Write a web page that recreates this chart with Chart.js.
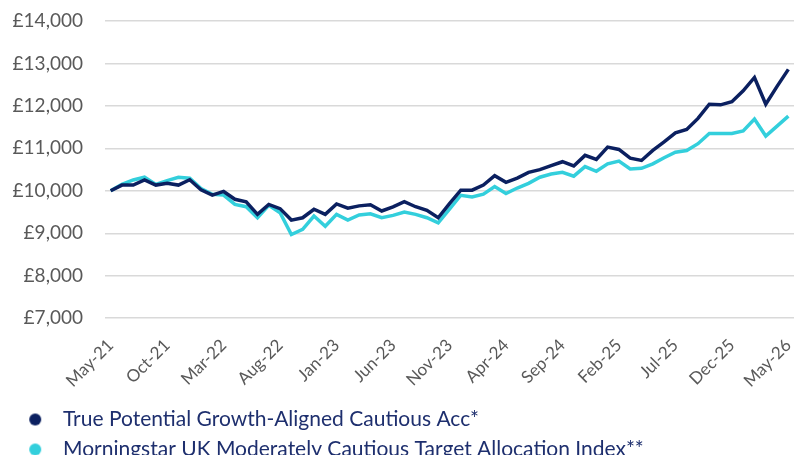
<!DOCTYPE html>
<html>
<head>
<meta charset="utf-8">
<script src="https://cdn.jsdelivr.net/npm/chart.js@4"></script>
<style>
  body { margin: 0; background: #fff; }
  #wrap { width: 794px; height: 455px; position: relative; }
</style>
</head>
<body>
<div id="wrap"><canvas id="growthChart"></canvas></div>
<script>
const months = [
  'May-21','Jun-21','Jul-21','Aug-21','Sep-21','Oct-21','Nov-21','Dec-21','Jan-22','Feb-22',
  'Mar-22','Apr-22','May-22','Jun-22','Jul-22','Aug-22','Sep-22','Oct-22','Nov-22','Dec-22',
  'Jan-23','Feb-23','Mar-23','Apr-23','May-23','Jun-23','Jul-23','Aug-23','Sep-23','Oct-23',
  'Nov-23','Dec-23','Jan-24','Feb-24','Mar-24','Apr-24','May-24','Jun-24','Jul-24','Aug-24',
  'Sep-24','Oct-24','Nov-24','Dec-24','Jan-25','Feb-25','Mar-25','Apr-25','May-25','Jun-25',
  'Jul-25','Aug-25','Sep-25','Oct-25','Nov-25','Dec-25','Jan-26','Feb-26','Mar-26','Apr-26',
  'May-26'
];

const fundValues = [
  10000, 10135, 10135, 10255, 10135, 10180, 10135, 10260, 10025, 9900,
  9985, 9800, 9740, 9445, 9680, 9580, 9310, 9365, 9565, 9445,
  9690, 9590, 9645, 9670, 9525, 9620, 9745, 9625, 9540, 9365,
  9700, 10015, 10015, 10135, 10355, 10200, 10300, 10435, 10500, 10595,
  10685, 10585, 10835, 10740, 11030, 10975, 10770, 10715, 10950, 11150,
  11365, 11445, 11705, 12040, 12025, 12100, 12355, 12670, 12040, 12460,
  12860
];

const indexValues = [
  10000, 10150, 10255, 10320, 10150, 10240, 10320, 10295, 10055, 9920,
  9900, 9680, 9625, 9365, 9660, 9485, 8970, 9090, 9405, 9165,
  9445, 9310, 9430, 9460, 9365, 9420, 9500, 9445, 9365, 9245,
  9570, 9895, 9855, 9920, 10100, 9935, 10065, 10175, 10320, 10395,
  10435, 10345, 10570, 10460, 10635, 10700, 10515, 10530, 10635, 10780,
  10910, 10950, 11110, 11350, 11350, 11350, 11410, 11690, 11290, 11525,
  11760
];

const yTicks = [7000, 8000, 9000, 10000, 11000, 12000, 13000, 14000];
const labelEvery = 5;

const fundName = 'True Potential Growth-Aligned Cautious Acc*';
const indexName = 'Morningstar UK Moderately Cautious Target Allocation Index**';

const navy = '#0b2060';
const cyan = '#33cfdc';

// small dot image for legend so the gap to the text can be set
function dot(color) {
  const c = document.createElement('canvas');
  c.width = 20; c.height = 14;
  const g = c.getContext('2d');
  g.fillStyle = color;
  g.beginPath();
  g.arc(9, 7, 6, 0, Math.PI * 2);
  g.fill();
  return c;
}

const ctx = document.getElementById('growthChart');

new Chart(ctx, {
  type: 'line',
  data: {
    labels: months,
    datasets: [
      {
        label: fundName,
        data: fundValues,
        borderColor: navy,
        backgroundColor: navy,
        borderWidth: 3.5,
        pointRadius: 0,
        pointStyle: dot(navy),
        tension: 0,
        order: 1
      },
      {
        label: indexName,
        data: indexValues,
        borderColor: cyan,
        backgroundColor: cyan,
        borderWidth: 3.5,
        pointRadius: 0,
        pointStyle: dot(cyan),
        tension: 0,
        order: 2
      }
    ]
  },
  options: {
    responsive: true,
    maintainAspectRatio: false,
    animation: false,
    layout: { padding: { left: 11, right: 0, top: 21, bottom: -15 } },
    plugins: {
      tooltip: { enabled: false },
      legend: {
        position: 'bottom',
        align: 'start',
        labels: {
          usePointStyle: true,
          pointStyleWidth: 32.5,
          padding: 9,
          color: '#1e2f6e',
          font: { family: 'Lato', size: 21 }
        }
      }
    },
    scales: {
      x: {
        offset: true,
        grid: { display: false },
        border: { display: false },
        afterFit: function (axis) {
          axis.paddingLeft = 0;
          axis.paddingRight = 0;
        },
        ticks: {
          autoSkip: false,
          maxRotation: 45,
          minRotation: 45,
          padding: 9,
          color: '#595959',
          font: { family: 'Lato', size: 17 },
          callback: function (val, i) {
            return i % labelEvery === 0 ? months[i] : '';
          }
        }
      },
      y: {
        min: yTicks[0],
        max: yTicks[yTicks.length - 1],
        afterBuildTicks: function (axis) {
          axis.ticks = yTicks.map(v => ({ value: v }));
        },
        afterFit: function (axis) {
          axis.width = 94;
          axis.paddingTop = 0;
          axis.paddingBottom = 0;
        },
        grid: { color: '#d9d9d9', lineWidth: 1.5, drawTicks: false },
        border: { display: false },
        ticks: {
          padding: 22,
          color: '#595959',
          font: { family: 'Lato', size: 19 },
          callback: function (v) {
            return '£' + Number(v).toLocaleString('en-GB');
          }
        }
      }
    }
  }
});
</script>
</body>
</html>
